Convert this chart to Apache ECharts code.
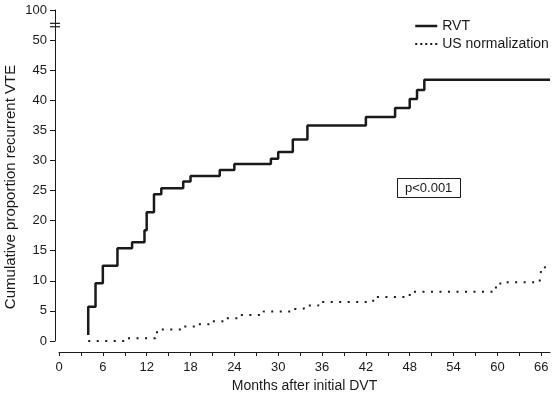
<!DOCTYPE html>
<html>
<head>
<meta charset="utf-8">
<script src="https://cdn.jsdelivr.net/npm/echarts@6/dist/echarts.min.js"></script>
<style>
  html, body { margin: 0; padding: 0; background: #fff; }
  #chart { width: 552px; height: 398px; }
</style>
</head>
<body>
<div id="chart"></div>
<script>
// RVT: month of each step and cumulative % after it
const rvtMonths = [4, 4, 5, 6, 8, 10, 11.7, 12, 13, 14, 17, 18, 22, 24, 29, 30, 32, 34, 42, 46, 48, 49, 50, 67.2]
const rvtValues = [1.0, 5.7, 9.6, 12.5, 15.4, 16.4, 18.4, 21.4, 24.4, 25.4, 26.5, 27.4, 28.4, 29.4, 30.3, 31.4, 33.5, 35.8, 37.2, 38.7, 40.2, 41.7, 43.4, 43.4]

// US normalization
const usMonths = [4, 9, 13.2, 14, 17, 19, 21, 23, 24.5, 28, 32, 33, 34, 35.5, 43, 48, 59.8, 60.4, 65.8, 66, 66.5, 67]
const usValues = [0, 0.45, 1.45, 1.9, 2.4, 2.8, 3.3, 3.8, 4.3, 4.9, 5.3, 5.5, 5.9, 6.5, 7.3, 8.2, 9.3, 9.75, 10.4, 11.8, 12.3, 12.3]

const xTickValues = [0, 3, 6, 9, 12, 15, 18, 21, 24, 27, 30, 33, 36, 39, 42, 45, 48, 51, 54, 57, 60, 63, 66]
const xLabelValues = [0, 6, 12, 18, 24, 30, 36, 42, 48, 54, 60, 66]
const yBreakTop = 55 // drawn as "100" above the axis break
const pText = 'p<0.001'

const font = "'Liberation Sans', Arial, sans-serif"
const ink = '#1a1a1a'

const chart = echarts.init(document.getElementById('chart'))

const zip = (xs, ys) => xs.map((x, i) => [x, ys[i]])

const option = {
	animation: false,
	textStyle: { fontFamily: font, color: ink },
	grid: { left: 59, right: 2, top: 10, bottom: 57, outerBoundsMode: 'none', containLabel: false },
	title: {
		text: pText,
		left: 397,
		top: 178,
		padding: [4, 8, 3, 8],
		borderColor: ink,
		borderWidth: 1,
		textStyle: { fontFamily: font, fontSize: 13, fontWeight: 'normal', color: ink },
	},
	legend: {
		orient: 'vertical',
		left: 414,
		top: 19,
		padding: 0,
		itemWidth: 22,
		itemHeight: 14,
		itemGap: 4,
		itemStyle: { opacity: 0 },
		textStyle: { fontFamily: font, fontSize: 14, color: ink },
		data: [
			{ name: 'RVT', lineStyle: { width: 2.5, type: 'solid' } },
			{ name: 'US normalization', lineStyle: { width: 2, type: [2, 3] } },
		],
	},
	xAxis: {
		type: 'value',
		min: 0,
		max: 67.2,
		offset: 11,
		name: 'Months after initial DVT',
		nameLocation: 'middle',
		nameGap: 27,
		nameTextStyle: { fontFamily: font, fontSize: 14, color: ink },
		splitLine: { show: false },
		axisLine: { show: true, onZero: false, lineStyle: { color: ink, width: 1 } },
		axisTick: { show: true, length: 4, customValues: xTickValues, lineStyle: { color: ink, width: 1 } },
		axisLabel: {
			customValues: xLabelValues,
			margin: 9,
			fontFamily: font,
			fontSize: 13,
			color: ink,
		},
	},
	yAxis: {
		type: 'value',
		min: 0,
		max: yBreakTop,
		interval: 5,
		offset: 4,
		name: 'Cumulative proportion recurrent VTE',
		nameLocation: 'middle',
		nameGap: 37,
		nameMoveOverlap: false,
		nameTextStyle: { fontFamily: font, fontSize: 15, color: ink, padding: [0, 23, 0, 0] },
		splitLine: { show: false },
		axisLine: { show: true, onZero: false, lineStyle: { color: ink, width: 1 } },
		axisTick: { show: true, length: 5, lineStyle: { color: ink, width: 1 } },
		axisLabel: {
			margin: 8,
			fontFamily: font,
			fontSize: 13,
			color: ink,
			formatter: (v) => (v === yBreakTop ? '100' : String(v)),
		},
	},
	series: [
		{
			name: 'RVT',
			type: 'line',
			step: 'end',
			showSymbol: false,
			symbol: 'none',
			clip: false,
			color: ink,
			lineStyle: { color: ink, width: 2.5 },
			data: zip(rvtMonths, rvtValues),
		},
		{
			name: 'US normalization',
			type: 'line',
			step: 'end',
			showSymbol: false,
			symbol: 'none',
			clip: false,
			color: ink,
			lineStyle: { color: ink, width: 2, type: [2, 6.5] },
			data: zip(usMonths, usValues),
		},
	],
}

chart.setOption(option)

// axis break mark between 50 and 100
const axisX = chart.convertToPixel({ xAxisIndex: 0 }, 0) - 4
const breakY = chart.convertToPixel({ yAxisIndex: 0 }, 52.5)
chart.setOption({
	graphic: [
		{
			type: 'rect',
			shape: { x: axisX - 2, y: breakY - 1.5, width: 4, height: 3 },
			style: { fill: '#fff' },
		},
		{
			type: 'line',
			shape: { x1: axisX - 5, y1: breakY - 1.7, x2: axisX + 5, y2: breakY - 1.7 },
			style: { stroke: ink, lineWidth: 1.2 },
		},
		{
			type: 'line',
			shape: { x1: axisX - 5, y1: breakY + 1.7, x2: axisX + 5, y2: breakY + 1.7 },
			style: { stroke: ink, lineWidth: 1.2 },
		},
	],
})
</script>
</body>
</html>
